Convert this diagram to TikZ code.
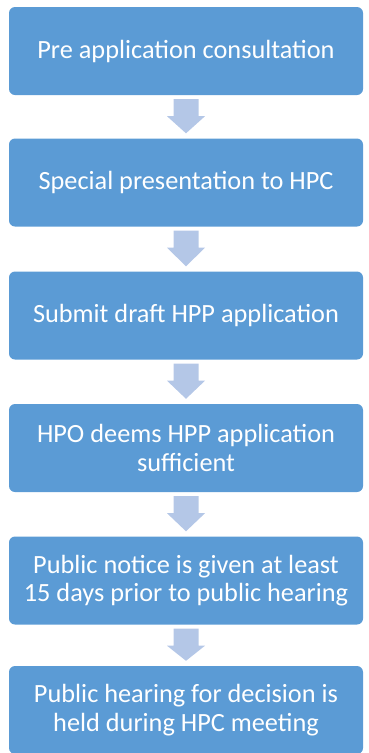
\documentclass[tikz,border=0pt]{standalone}
\usepackage{fontspec}
\setmainfont{Carlito}
\definecolor{boxblue}{HTML}{5B9BD5}
\definecolor{arrowblue}{HTML}{B4C7E7}
\begin{document}
\begin{tikzpicture}[x=1pt,y=-1pt,
  stepbox/.style={draw=none,fill=boxblue,rounded corners=6pt,minimum width=354pt,minimum height=88pt,align=center,text=white,font=\fontsize{26.3}{28.5}\selectfont,inner sep=0pt},
  flowarrow/.style={fill=arrowblue,draw=none}]
\useasboundingbox (0,0) rectangle (368,753);
\node[stepbox] (b1) at (186,51) {Pre application consultation};
\node[stepbox] (b2) at (186,182.5) {Special presentation to HPC};
\node[stepbox] (b3) at (186,315.5) {Submit draft HPP application};
\node[stepbox] (b4) at (186,448) {HPO deems HPP application\\sufficient};
\node[stepbox] (b5) at (186,580.5) {Public notice is given at least\\15 days prior to public hearing};
\node[stepbox] (b6) at (186,710) {Public hearing for decision is\\held during HPC meeting};
\foreach \a/\b in {b1/b2,b2/b3,b3/b4,b4/b5,b5/b6}{
  \fill[flowarrow] ([xshift=-12.5pt,yshift=-4pt]\a.south) -- ([xshift=12.5pt,yshift=-4pt]\a.south)
    -- ([xshift=12.5pt,yshift=-21pt]\a.south) -- ([xshift=19pt,yshift=-21pt]\a.south)
    -- ([yshift=5pt]\b.north) -- ([xshift=-19pt,yshift=-21pt]\a.south)
    -- ([xshift=-12.5pt,yshift=-21pt]\a.south) -- cycle;
}
\end{tikzpicture}
\end{document}
